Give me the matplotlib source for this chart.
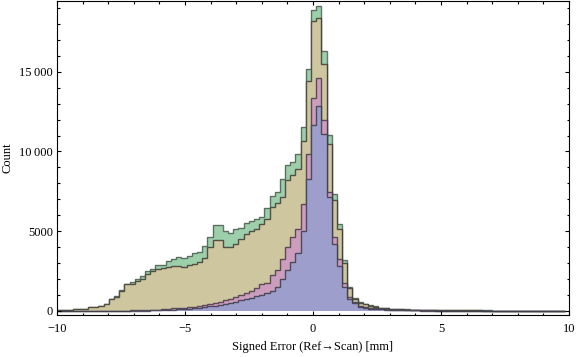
import numpy as np
import matplotlib
matplotlib.use("Agg")
import matplotlib.pyplot as plt
from matplotlib.ticker import FuncFormatter, MultipleLocator

# histogram bins (mm)
bin_start = -10.0
bin_width = 0.2025

# counts per bin (back to front)
green = [30, 30, 30, 85, 85, 85, 220, 230, 320, 440,
         750, 900, 1270, 1700, 1800, 1970, 2150, 2470, 2640, 2900,
         2900, 3120, 3240, 3360, 3300, 3450, 3600, 3660, 4060, 4640,
         5360, 5400, 4980, 4900, 5130, 5170, 5520, 5650, 5770, 5880,
         6440, 7200, 7470, 8240, 9180, 9350, 9830, 11550, 15170, 18870,
         19120, 16300, 11030, 7320, 5420, 3180, 1460, 800, 560, 440,
         330, 290, 190, 150, 125, 100, 90, 80, 70, 60,
         55, 50, 45, 40, 40, 35, 35, 30, 30, 25,
         25, 20, 15, 15, 12, 12, 10, 10, 8, 8,
         6, 6, 5, 5, 4, 4, 3, 0]
tan = [25, 25, 25, 80, 80, 80, 210, 220, 310, 420,
       730, 880, 1230, 1690, 1700, 1860, 2000, 2300, 2470, 2600,
       2680, 2760, 2820, 2830, 2740, 2850, 2950, 3030, 3330, 4020,
       4440, 4440, 4000, 4000, 4200, 4520, 4830, 5000, 5150, 5440,
       5730, 6490, 6780, 7110, 8200, 8510, 8870, 10650, 14410, 18200,
       18410, 15520, 10440, 6950, 5100, 2970, 1400, 730, 500, 400,
       290, 230, 170, 140, 110, 90, 80, 70, 60, 55,
       50, 45, 40, 35, 35, 30, 30, 25, 25, 20,
       20, 15, 12, 12, 10, 10, 8, 8, 6, 6,
       5, 5, 4, 4, 3, 3, 2, 0]
pink = [0, 0, 0, 0, 0, 0, 0, 0, 0, 0,
        0, 0, 5, 10, 30, 35, 40, 45, 55, 60,
        100, 130, 160, 190, 190, 230, 250, 290, 330, 400,
        460, 540, 650, 730, 840, 960, 1110, 1230, 1420, 1690,
        1760, 2240, 2550, 3220, 4020, 4600, 5100, 6700, 9870, 13330,
        14640, 12000, 7430, 4600, 3250, 1720, 850, 560, 310, 230,
        190, 150, 100, 80, 60, 50, 40, 35, 30, 25,
        20, 18, 15, 12, 10, 10, 8, 8, 6, 6,
        5, 4, 4, 3, 3, 3, 2, 2, 2, 2,
        1, 1, 1, 1, 1, 1, 1, 0]
blue = [0, 0, 0, 0, 0, 0, 0, 0, 0, 0,
        0, 0, 0, 0, 0, 0, 5, 10, 15, 20,
        30, 45, 60, 80, 100, 125, 150, 190, 230, 270,
        310, 375, 440, 500, 565, 650, 710, 800, 920, 980,
        1110, 1260, 1500, 1970, 2530, 3080, 3600, 5000, 8300, 11650,
        12850, 11090, 7150, 4160, 2780, 1460, 710, 460, 230, 170,
        125, 105, 80, 60, 45, 40, 30, 25, 20, 15,
        12, 10, 8, 6, 5, 5, 4, 4, 3, 3,
        2, 2, 2, 1, 1, 1, 1, 1, 1, 1,
        1, 1, 1, 1, 1, 1, 1, 0]

x_label = "Signed Error (Ref\u2192Scan) [mm]"
y_label = "Count"

plt.rcParams['font.family'] = ['Liberation Serif', 'DejaVu Serif']

edges = bin_start + bin_width * np.arange(len(green) + 1)

fig = plt.figure(figsize=(5.76, 3.57), dpi=100)
ax = fig.add_axes([57 / 576, 42 / 357, 512 / 576, 314 / 357])

series = [(green, '#9dcfab', '#4d5f52'),
          (tan, '#cdc69f', '#3c3c34'),
          (pink, '#cc9dbd', '#4a3c46'),
          (blue, '#9e9ecd', '#3c3c4a')]
for vals, fc, ec in series:
    ax.stairs(vals, edges, fill=True, facecolor=fc, edgecolor='none')
    ax.stairs(vals, edges, fill=False, edgecolor=ec, linewidth=1.0, alpha=0.85)

ax.set_xlim(-10, 10)
ax.set_ylim(-270, 19450)

ax.xaxis.set_major_locator(MultipleLocator(5))
ax.xaxis.set_minor_locator(MultipleLocator(1))
ax.yaxis.set_major_locator(MultipleLocator(5000))
ax.yaxis.set_minor_locator(MultipleLocator(1000))

def fmt_x(v, pos):
    v = int(round(v))
    return ('\u2212%d' % -v) if v < 0 else '%d' % v

def fmt_y(v, pos):
    v = int(round(v))
    if v >= 10000:
        return '%d\u2009%03d' % (v // 1000, v % 1000)
    return '%d' % v

ax.xaxis.set_major_formatter(FuncFormatter(fmt_x))
ax.yaxis.set_major_formatter(FuncFormatter(fmt_y))

ax.tick_params(which='both', direction='in', top=True, right=True,
               labelsize=9, width=0.8, color='black')
ax.tick_params(which='major', length=3.2)
ax.tick_params(which='minor', length=1.8)
ax.tick_params(axis='x', pad=5.5)
ax.tick_params(axis='y', pad=3)

for s in ax.spines.values():
    s.set_linewidth(0.8)

ax.set_xlabel(x_label, fontsize=9)
ax.set_ylabel(y_label, fontsize=9)
ax.xaxis.set_label_coords(0.5, -0.083)
ax.yaxis.set_label_coords(-0.085, 0.5)

fig.savefig('out.png', dpi=100)
